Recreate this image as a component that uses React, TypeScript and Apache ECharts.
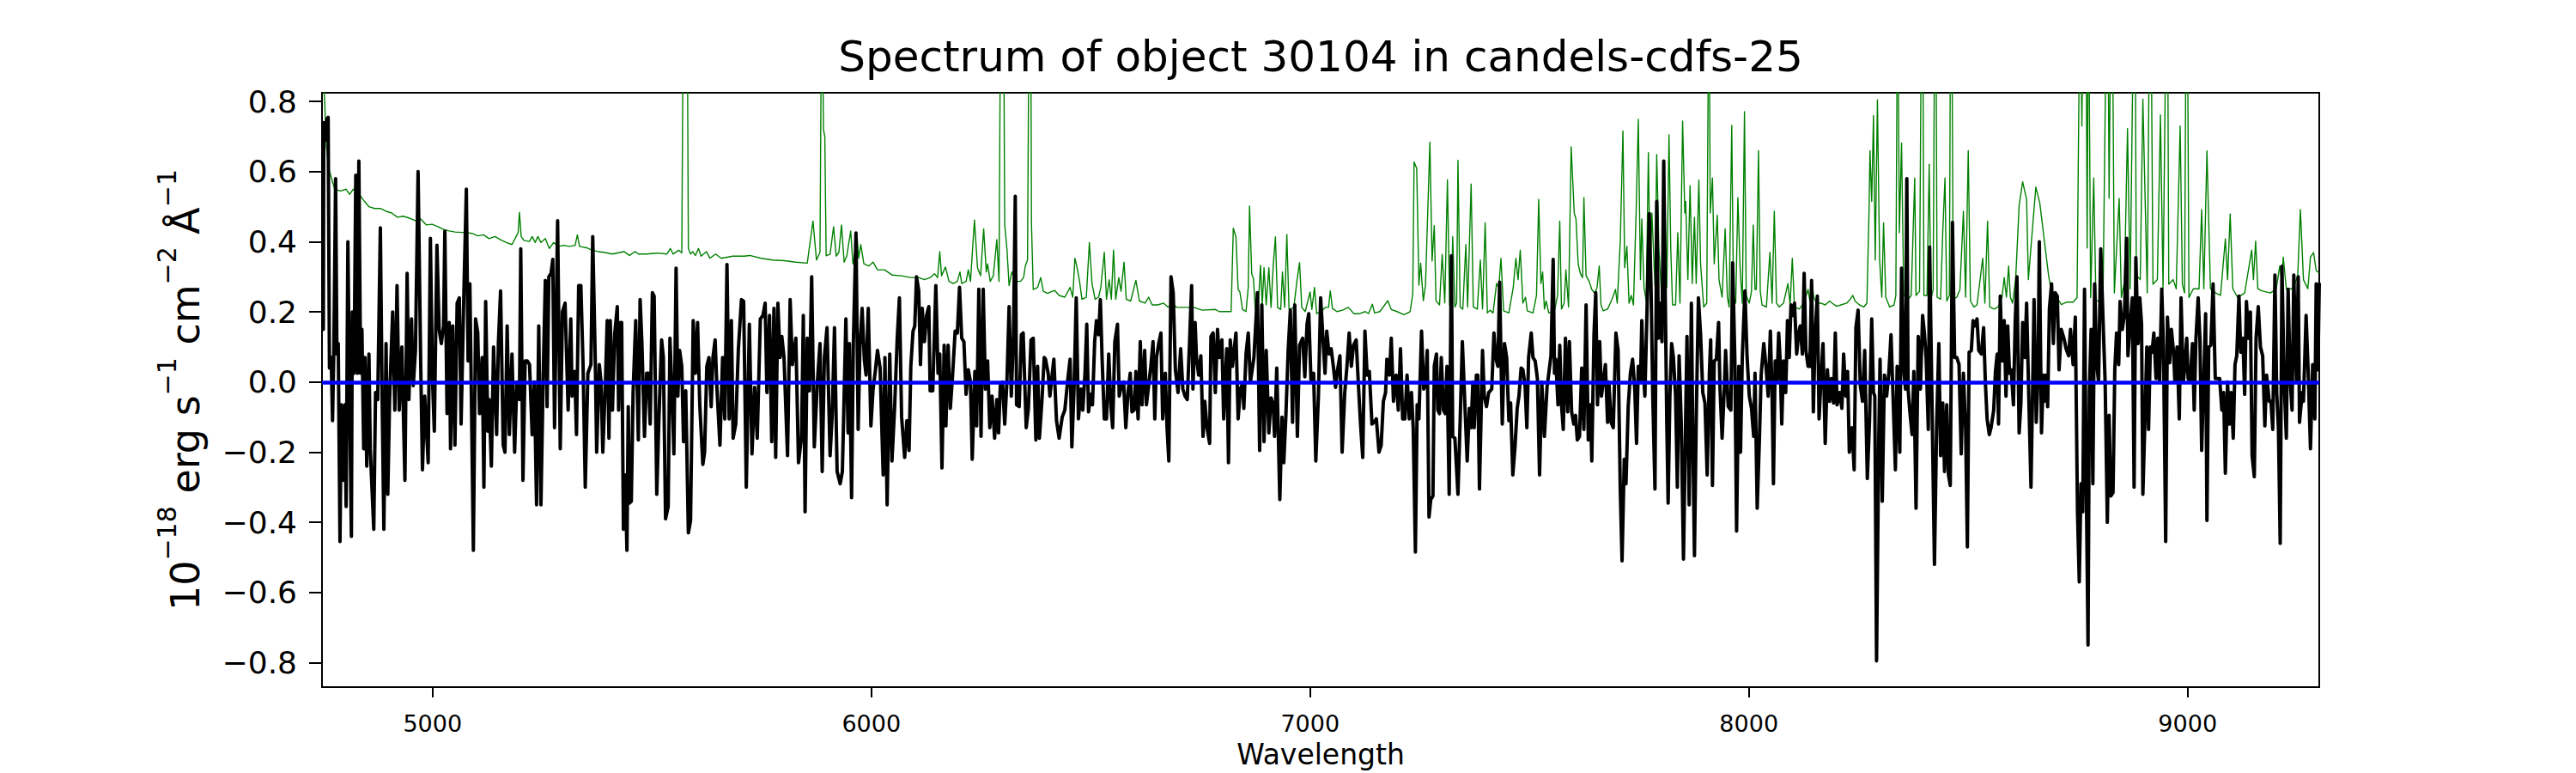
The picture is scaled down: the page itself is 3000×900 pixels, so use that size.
import React, { useEffect, useRef } from "react";
import * as echarts from "echarts";

const TITLE = "Spectrum of object 30104 in candels-cdfs-25";
const X_NAME = "Wavelength";
const X_TICKS = [5000, 6000, 7000, 8000, 9000];
const Y_TICKS = [-0.8, -0.6, -0.4, -0.2, 0, 0.2, 0.4, 0.6, 0.8];
const X_RANGE = [4748, 9300];
const Y_RANGE = [-0.87, 0.825];
const ZERO_LEVEL = 0;

// observed flux [wavelength, flux]
const FLUX: [number, number][] = [
  [4751,0.15],[4752,0.74],[4756,0.69],[4759,0.75],[4762,0.755],[4765,0.04],[4769,0.07],[4772,-0.11],[4775,0.09],[4779,0.58],[4782,0.08],[4785,0.11],[4789,-0.455],[4792,-0.065],[4796,-0.28],[4800,-0.065],[4803,-0.355],[4807,0.40],[4811,-0.065],[4815,-0.44],[4817,0.20],[4821,0.025],[4825,0.59],[4829,0.025],[4832,0.63],[4836,0.025],[4839,0.15],[4843,-0.19],[4846,0.07],[4850,-0.24],[4855,0.08],[4858,-0.19],[4866,-0.42],[4870,-0.03],[4875,-0.05],[4881,0.44],[4885,-0.04],[4889,-0.42],[4894,0.11],[4898,-0.32],[4902,-0.05],[4909,0.20],[4914,-0.08],[4919,0.275],[4924,-0.08],[4930,0.10],[4937,-0.28],[4942,0.31],[4946,-0.05],[4952,0.18],[4956,-0.01],[4961,0.09],[4967,0.60],[4973,0.05],[4977,-0.25],[4982,-0.04],[4990,-0.23],[4995,0.41],[5000,0.0],[5004,-0.14],[5010,0.39],[5015,0.15],[5020,0.11],[5025,0.16],[5028,0.43],[5033,-0.09],[5038,0.17],[5041,-0.19],[5046,0.16],[5051,-0.18],[5056,0.225],[5061,0.24],[5065,-0.12],[5072,0.29],[5077,0.55],[5081,0.06],[5085,0.28],[5089,-0.09],[5093,-0.48],[5098,0.18],[5103,0.14],[5107,-0.09],[5113,0.07],[5117,-0.30],[5121,0.23],[5126,-0.14],[5129,-0.05],[5134,-0.24],[5139,0.10],[5146,-0.15],[5150,0.11],[5155,0.26],[5161,-0.18],[5165,-0.20],[5170,0.16],[5175,-0.15],[5181,0.08],[5187,-0.20],[5192,0.0],[5198,-0.05],[5201,0.38],[5206,-0.28],[5211,0.06],[5216,0.06],[5221,0.05],[5227,-0.15],[5232,0.0],[5237,-0.35],[5242,0.16],[5247,-0.35],[5252,0.01],[5257,0.29],[5261,-0.07],[5265,0.30],[5270,0.31],[5274,0.35],[5278,-0.13],[5285,0.46],[5291,-0.19],[5296,0.20],[5302,0.225],[5309,-0.08],[5315,0.18],[5318,-0.04],[5324,0.03],[5328,-0.15],[5333,0.275],[5338,0.275],[5343,0.05],[5348,-0.30],[5354,0.025],[5361,0.05],[5365,0.415],[5371,0.05],[5374,-0.20],[5380,0.05],[5384,0.0],[5388,-0.20],[5394,0.0],[5398,0.175],[5402,-0.16],
  [5405,0.175],[5410,-0.08],[5415,0.135],[5421,0.215],[5424,-0.08],[5428,0.17],[5431,0.17],[5435,-0.42],[5439,-0.265],[5443,-0.48],[5446,-0.07],[5449,-0.345],[5453,-0.34],[5457,-0.03],[5463,0.175],[5469,-0.165],[5473,0.235],[5477,0.115],[5483,-0.155],[5488,0.025],[5492,0.025],[5496,-0.12],[5501,0.255],[5505,0.245],[5511,-0.32],[5516,-0.10],[5522,0.12],[5526,0.07],[5531,-0.39],[5537,-0.355],[5541,0.125],[5546,-0.04],[5550,-0.205],[5555,0.325],[5559,-0.04],[5563,0.09],[5568,0.045],[5572,-0.17],[5577,-0.025],[5583,-0.43],[5588,-0.395],[5594,0.175],[5599,0.025],[5604,0.17],[5609,-0.065],[5616,-0.235],[5620,-0.20],[5625,0.045],[5630,0.07],[5635,-0.07],[5639,0.07],[5644,0.12],[5648,-0.015],[5655,-0.18],[5661,0.07],[5666,-0.105],[5671,0.335],[5676,-0.105],[5681,0.175],[5685,-0.16],[5691,-0.12],[5697,0.095],[5704,0.235],[5709,0.23],[5715,-0.30],[5722,0.165],[5728,-0.205],[5734,-0.015],[5740,-0.16],[5747,0.18],[5753,0.19],[5758,0.225],[5762,-0.03],[5768,0.19],[5773,-0.17],[5778,0.21],[5782,-0.215],[5787,0.225],[5792,0.07],[5796,0.13],[5801,0.07],[5809,-0.21],[5815,0.235],[5820,0.05],[5828,0.125],[5834,-0.23],[5841,-0.155],[5845,0.19],[5849,-0.37],[5854,0.125],[5859,-0.025],[5864,0.30],[5870,-0.185],[5877,0.0],[5883,0.11],[5888,-0.255],[5893,0.07],[5899,0.155],[5906,-0.21],[5911,-0.09],[5916,0.155],[5922,-0.255],[5929,-0.29],[5934,-0.255],[5942,0.18],[5947,-0.145],[5950,0.11],[5955,-0.33],[5959,0.11],[5965,0.425],[5970,-0.135],[5974,0.10],[5979,0.21],[5984,0.065],[5988,0.02],[5993,0.21],[5999,-0.125],[6004,-0.02],[6009,0.03],[6014,0.09],[6020,0.04],[6027,-0.265],[6031,0.07],[6036,-0.35],[6042,0.08],[6047,-0.225],
  [6053,-0.075],[6059,0.125],[6064,0.24],[6069,-0.10],[6076,-0.215],[6081,-0.11],[6086,-0.195],[6090,0.045],[6095,0.145],[6099,0.16],[6103,0.30],[6108,0.26],[6112,0.05],[6116,0.21],[6121,0.115],[6126,0.19],[6131,0.215],[6134,-0.025],[6140,-0.025],[6147,0.275],[6152,0.025],[6156,0.08],[6161,-0.245],[6166,0.105],[6170,-0.125],[6175,0.105],[6180,-0.075],[6185,0.015],[6191,0.145],[6196,0.14],[6201,0.27],[6206,0.125],[6211,0.115],[6216,-0.035],[6221,0.035],[6226,0.0],[6230,-0.22],[6236,0.03],[6240,-0.125],[6245,0.265],[6250,-0.155],[6255,0.265],[6260,-0.02],[6265,0.06],[6270,-0.13],[6275,-0.04],[6281,-0.16],[6286,-0.05],[6290,-0.145],[6294,-0.01],[6299,0.0],[6304,-0.12],[6309,0.0],[6314,0.215],[6319,-0.04],[6324,0.135],[6328,0.53],[6331,-0.065],[6337,-0.07],[6342,0.135],[6346,0.14],[6353,-0.13],[6358,-0.075],[6364,0.12],[6369,0.125],[6375,-0.165],[6379,0.045],[6383,-0.16],[6389,-0.05],[6394,0.07],[6397,0.065],[6403,0.025],[6407,-0.04],[6412,0.02],[6416,0.065],[6422,-0.11],[6428,-0.16],[6435,-0.10],[6441,-0.08],[6448,0.01],[6453,0.065],[6457,-0.185],[6462,-0.02],[6467,0.24],[6472,-0.105],[6478,-0.02],[6482,-0.08],[6487,0.025],[6491,0.165],[6495,-0.085],[6500,-0.035],[6504,-0.065],[6509,0.115],[6513,0.175],[6518,0.135],[6522,0.235],[6526,0.065],[6531,-0.105],[6536,-0.105],[6541,0.08],[6546,-0.07],[6550,-0.13],[6555,0.115],[6561,0.165],[6565,-0.04],[6570,-0.01],[6575,0.0],[6580,-0.13],[6585,-0.03],[6590,0.025],[6594,-0.085],[6599,-0.08],[6603,0.03],[6608,-0.105],[6613,0.115],[6617,-0.065],[6623,0.09],[6627,-0.065],[6632,-0.01],[6637,0.045],[6642,0.115],[6646,-0.105],[6650,0.07],[6655,0.11],[6660,0.14],[6664,-0.105],[6670,0.025],[6674,-0.13],[6678,-0.225],[6683,0.30],[6688,0.255],[6693,0.035],
  [6699,-0.03],[6705,0.095],[6710,-0.02],[6715,-0.04],[6720,-0.05],[6725,0.105],[6730,0.275],[6733,-0.02],[6738,0.17],[6741,0.07],[6746,0.02],[6751,0.075],[6756,-0.155],[6760,-0.055],[6765,-0.13],[6771,-0.175],[6774,0.13],[6779,0.14],[6784,-0.03],[6789,0.15],[6793,0.07],[6799,0.12],[6803,-0.105],[6810,0.095],[6814,-0.23],[6818,0.12],[6823,0.045],[6831,0.14],[6836,-0.105],[6841,-0.02],[6846,-0.005],[6849,-0.075],[6854,0.08],[6859,0.14],[6864,0.0],[6872,0.07],[6880,0.255],[6885,-0.195],[6890,0.22],[6895,-0.17],[6900,0.09],[6906,-0.145],[6911,-0.045],[6916,-0.065],[6919,-0.155],[6924,0.04],[6931,-0.335],[6936,-0.10],[6940,-0.23],[6945,-0.09],[6950,0.09],[6955,0.205],[6960,-0.115],[6965,0.22],[6971,-0.155],[6976,0.105],[6983,0.125],[6988,0.015],[6993,0.165],[6997,0.195],[7002,0.005],[7008,0.025],[7013,-0.225],[7019,-0.04],[7024,0.24],[7028,0.155],[7034,0.025],[7038,0.145],[7043,0.08],[7048,0.095],[7053,0.045],[7058,-0.015],[7062,0.03],[7068,0.075],[7073,-0.20],[7079,-0.03],[7084,0.045],[7089,0.14],[7094,0.045],[7099,0.105],[7105,0.12],[7110,-0.005],[7115,-0.12],[7120,-0.215],[7125,0.145],[7130,0.02],[7135,0.03],[7141,-0.12],[7146,-0.115],[7151,-0.105],[7157,-0.20],[7162,-0.18],[7167,-0.055],[7172,-0.03],[7175,0.065],[7181,0.02],[7185,0.125],[7190,-0.055],[7196,0.02],[7201,-0.08],[7206,0.095],[7211,-0.105],[7216,-0.105],[7221,0.02],[7226,-0.105],[7231,-0.03],[7235,-0.13],[7240,-0.485],[7244,-0.065],[7248,-0.105],[7254,0.145],[7259,-0.02],[7263,-0.005],[7267,0.09],[7271,-0.385],[7275,-0.335],[7280,-0.325],[7283,0.045],[7288,0.08],[7291,-0.08],[7295,-0.09],[7299,0.07],[7304,-0.08],[7308,-0.09],[7312,0.045],[7317,-0.32],
  [7322,0.36],[7325,-0.155],[7330,-0.16],[7337,-0.32],[7342,-0.11],[7347,0.115],[7352,-0.04],[7358,-0.225],[7363,-0.075],[7367,-0.13],[7371,0.0],[7374,-0.13],[7379,0.02],[7382,0.02],[7386,-0.305],[7393,0.09],[7397,-0.04],[7402,-0.07],[7407,-0.03],[7414,-0.02],[7419,0.14],[7423,0.07],[7428,0.045],[7432,0.285],[7435,0.07],[7438,-0.12],[7443,0.11],[7448,0.07],[7453,-0.11],[7457,-0.06],[7462,-0.265],[7467,-0.185],[7472,-0.075],[7476,-0.04],[7481,0.04],[7485,0.035],[7490,-0.01],[7494,-0.13],[7498,0.07],[7504,0.14],[7508,0.07],[7513,0.06],[7518,0.01],[7523,-0.265],[7528,0.0],[7534,-0.155],[7540,-0.015],[7544,0.025],[7549,0.075],[7554,0.35],[7557,0.025],[7560,0.065],[7565,-0.065],[7569,0.105],[7573,-0.065],[7577,-0.135],[7582,0.125],[7587,-0.085],[7591,0.115],[7596,-0.085],[7601,-0.12],[7605,-0.095],[7609,-0.165],[7614,-0.155],[7619,0.04],[7624,-0.135],[7629,0.22],[7634,-0.165],[7639,-0.065],[7642,-0.225],[7647,0.135],[7651,0.255],[7655,-0.065],[7660,0.115],[7664,-0.04],[7668,0.0],[7673,0.05],[7678,-0.115],[7681,0.0],[7686,-0.115],[7691,-0.13],[7697,0.14],[7702,0.09],[7707,-0.31],[7711,-0.51],[7716,-0.22],[7720,-0.29],[7725,-0.07],[7730,0.025],[7735,0.065],[7740,-0.02],[7744,-0.175],[7748,0.045],[7753,0.0],[7756,0.175],[7759,0.045],[7763,-0.04],[7768,0.21],[7773,0.48],[7777,0.27],[7781,-0.04],[7786,-0.305],[7790,0.515],[7794,0.125],[7797,0.225],[7802,0.115],[7806,0.63],[7809,0.29],[7813,-0.12],[7816,-0.345],[7820,-0.04],[7824,0.11],[7828,0.07],[7833,-0.04],[7837,-0.30],[7841,0.075],[7846,-0.12],[7851,-0.505],[7856,-0.10],[7859,0.13],[7864,-0.35],[7869,0.225],[7872,-0.13],[7876,-0.495],[7880,-0.11],[7885,0.24],[7890,0.135],[7895,-0.03],[7900,-0.06],[7905,-0.265],[7910,0.025],[7913,0.12],[7917,-0.295],[7921,0.06],[7926,0.065],[7931,0.17],[7934,-0.01],[7939,-0.16],[7944,-0.02],[7947,0.09],[7953,-0.07],[7959,-0.08],[7963,0.34],[7968,0.07],[7972,-0.425],[7977,0.045],[7981,-0.2],[7985,0.07],
  [7991,0.26],[7996,0.07],[8001,-0.04],[8006,-0.075],[8011,-0.155],[8014,0.025],[8019,-0.36],[8024,-0.165],[8028,0.02],[8034,0.11],[8039,0.045],[8044,-0.04],[8049,0.145],[8053,-0.04],[8056,-0.29],[8060,0.06],[8064,0.0],[8068,0.14],[8071,0.07],[8075,-0.12],[8079,0.06],[8084,-0.03],[8088,0.175],[8092,0.07],[8096,0.22],[8101,0.19],[8104,0.225],[8109,0.08],[8113,0.135],[8117,0.16],[8122,0.08],[8126,0.31],[8130,0.09],[8135,0.045],[8139,0.045],[8143,0.29],[8147,-0.085],[8151,0.135],[8156,0.245],[8160,-0.105],[8164,0.0],[8169,0.11],[8174,-0.175],[8179,0.035],[8184,-0.055],[8188,0.01],[8193,-0.06],[8197,0.14],[8201,-0.065],[8207,-0.03],[8212,-0.075],[8216,0.08],[8221,-0.04],[8225,0.03],[8229,-0.20],[8235,-0.13],[8240,-0.25],[8244,0.155],[8249,0.205],[8254,-0.01],[8259,-0.055],[8264,0.09],[8270,-0.275],[8275,-0.11],[8280,0.18],[8284,-0.03],[8287,-0.04],[8291,-0.795],[8296,-0.165],[8299,0.065],[8304,-0.34],[8309,0.02],[8314,-0.04],[8319,0.025],[8324,0.135],[8329,-0.055],[8334,-0.25],[8338,0.045],[8344,-0.20],[8348,0.325],[8353,0.035],[8357,-0.02],[8360,0.58],[8363,-0.02],[8367,-0.085],[8372,-0.15],[8376,0.03],[8381,-0.36],[8386,0.13],[8391,-0.02],[8396,0.19],[8400,0.14],[8404,0.07],[8409,-0.135],[8412,0.385],[8417,-0.025],[8423,-0.52],[8428,-0.12],[8433,0.11],[8437,-0.21],[8442,-0.06],[8446,-0.255],[8451,-0.065],[8455,-0.265],[8459,-0.295],[8464,0.455],[8469,0.07],[8474,0.07],[8479,0.05],[8484,-0.205],[8489,0.025],[8494,-0.13],[8498,-0.47],[8502,0.085],[8507,0.09],[8511,0.175],[8515,0.16],[8520,0.18],[8524,0.09],[8530,0.08],[8535,0.155],[8539,0.0],[8543,-0.105],[8548,-0.15],[8552,-0.13],[8558,-0.08],[8562,0.03],[8566,0.08],[8569,-0.12],[8573,0.245],[8577,0.06],[8582,0.175],[8586,-0.04],[8590,0.16],[8594,0.025],[8598,0.035],[8603,-0.065],[8607,0.17],[8611,0.30],[8616,-0.145],[8620,-0.06],[8624,0.17],[8629,0.07],[8633,0.225],
  [8637,0.01],[8643,-0.30],[8647,0.0],[8650,0.235],[8655,-0.115],[8659,0.02],[8662,0.40],[8667,-0.145],[8671,0.02],[8673,-0.055],[8677,0.02],[8681,-0.07],[8685,0.21],[8690,0.28],[8694,0.11],[8698,0.255],[8703,0.245],[8707,0.035],[8712,0.15],[8718,0.125],[8723,0.095],[8729,0.075],[8733,0.15],[8739,0.05],[8744,0.185],[8749,-0.37],[8753,-0.57],[8757,-0.29],[8761,-0.37],[8765,0.265],[8769,-0.29],[8773,-0.75],[8776,-0.03],[8780,0.15],[8784,-0.29],[8788,0.28],[8793,0.05],[8797,0.0],[8802,0.38],[8807,0.185],[8812,0.0],[8817,-0.40],[8821,-0.095],[8825,-0.325],[8830,-0.315],[8834,0.035],[8838,0.14],[8843,0.05],[8846,0.23],[8851,0.15],[8856,0.19],[8861,0.41],[8864,0.075],[8869,0.165],[8874,0.24],[8878,-0.30],[8882,0.355],[8887,0.11],[8891,0.24],[8895,0.165],[8898,-0.32],[8903,-0.095],[8907,0.10],[8911,-0.135],[8915,0.10],[8919,0.085],[8923,0.14],[8928,0.01],[8932,0.125],[8936,0.0],[8941,0.265],[8945,0.10],[8950,-0.455],[8954,0.185],[8959,0.055],[8963,0.15],[8968,0.085],[8971,0.0],[8976,0.10],[8981,-0.105],[8985,0.24],[8990,0.0],[8993,0.035],[8998,0.125],[9001,0.01],[9006,0.0],[9011,0.11],[9015,-0.08],[9019,0.125],[9024,0.24],[9028,0.125],[9032,-0.195],[9037,0.02],[9041,0.195],[9044,-0.395],[9048,0.10],[9053,0.105],[9058,0.28],[9063,0.01],[9067,0.01],[9073,0.01],[9078,-0.08],[9082,-0.03],[9086,-0.26],[9091,0.0],[9095,-0.12],[9099,-0.03],[9104,-0.16],[9108,0.05],[9112,0.075],[9117,0.245],[9121,0.085],[9126,0.125],[9130,-0.035],[9134,0.23],[9139,0.125],[9143,0.20],[9147,-0.21],[9152,-0.27],[9156,0.125],[9161,0.215],[9166,0.10],[9171,0.075],[9176,-0.125],[9180,0.02],[9186,-0.055],[9190,-0.055],[9194,-0.135],[9199,0.305],[9203,-0.03],[9207,-0.135],[9211,-0.46],[9215,0.33],[9220,0.0],[9225,-0.16],[9229,0.265],[9234,0.0],[9238,-0.08],[9242,0.305],[9248,0.0],[9252,0.30],[9255,-0.115],[9261,-0.03],[9264,-0.055],[9270,0.19],[9275,0.02],[9280,-0.19],[9285,0.05],[9290,-0.105],[9293,0.28],[9297,0.035],[9300,0.28],
];

// noise spectrum [wavelength, sigma]
const NOISE: [number, number][] = [
  [4749,0.95],[4754,0.805],[4758,0.67],[4764,0.605],[4770,0.58],[4777,0.55],[4790,0.545],[4803,0.55],[4811,0.535],[4819,0.55],[4826,0.545],[4836,0.53],[4845,0.515],[4855,0.50],[4868,0.495],[4881,0.495],[4894,0.487],[4907,0.482],[4920,0.47],[4933,0.473],[4946,0.468],[4963,0.459],[4973,0.465],[4986,0.448],[4999,0.45],[5012,0.443],[5025,0.435],[5038,0.431],[5051,0.428],[5077,0.426],[5090,0.424],[5103,0.417],[5116,0.42],[5129,0.409],[5142,0.415],[5155,0.406],[5168,0.398],[5181,0.392],[5188,0.409],[5195,0.426],[5198,0.484],[5202,0.415],[5208,0.404],[5221,0.401],[5227,0.415],[5234,0.398],[5240,0.415],[5247,0.398],[5257,0.409],[5266,0.381],[5276,0.398],[5286,0.387],[5299,0.39],[5312,0.387],[5325,0.39],[5330,0.42],[5335,0.387],[5351,0.383],[5364,0.376],[5377,0.372],[5390,0.37],[5402,0.367],
  [5410,0.365],[5436,0.372],[5449,0.361],[5461,0.372],[5469,0.365],[5488,0.365],[5514,0.368],[5534,0.365],[5542,0.381],[5548,0.365],[5561,0.376],[5568,0.368],[5572,1.2],[5580,1.2],[5583,0.381],[5588,0.365],[5593,0.372],[5599,0.361],[5606,0.381],[5612,0.359],[5624,0.372],[5632,0.353],[5645,0.365],[5658,0.353],[5684,0.359],[5710,0.359],[5723,0.361],[5749,0.353],[5775,0.348],[5802,0.346],[5828,0.342],[5854,0.339],[5867,0.459],[5875,0.348],[5883,0.37],[5887,1.2],[5891,0.72],[5894,0.70],[5897,0.36],[5906,0.365],[5914,0.443],[5920,0.359],[5926,0.37],[5932,0.448],[5938,0.342],[5944,0.359],[5953,0.431],[5958,0.337],[5968,0.409],[5971,0.353],[5976,0.392],[5983,0.337],[5994,0.331],[6004,0.342],[6014,0.32],[6030,0.32],[6048,0.305],
  [6069,0.303],[6089,0.298],[6108,0.298],[6121,0.292],[6134,0.298],[6144,0.309],[6151,0.298],[6156,0.372],[6160,0.303],[6169,0.328],[6177,0.287],[6187,0.281],[6196,0.287],[6202,0.314],[6206,0.281],[6216,0.287],[6221,0.32],[6226,0.287],[6235,0.462],[6242,0.326],[6249,0.303],[6256,0.437],[6262,0.314],[6265,0.337],[6271,0.287],[6278,0.303],[6286,0.406],[6291,0.287],[6295,1.2],[6301,1.2],[6304,0.448],[6309,0.381],[6314,0.275],[6320,0.314],[6330,0.287],[6340,0.287],[6347,0.298],[6351,0.331],[6356,0.348],[6360,1.2],[6363,1.2],[6365,0.45],[6369,0.264],[6379,0.27],[6386,0.298],[6392,0.259],[6402,0.253],[6412,0.259],[6418,0.261],[6428,0.247],[6441,0.242],[6453,0.27],[6459,0.242],[6464,0.353],[6469,0.326],[6474,0.292],[6480,0.236],[6490,0.242],[6497,0.398],[6503,0.281],[6510,0.236],[6518,0.242],[6523,0.27],[6531,0.37],[6536,0.236],[6542,0.292],[6547,0.236],[6552,0.376],[6557,0.236],[6564,0.298],[6569,0.259],[6576,0.342],[6581,0.236],[6591,0.231],[6603,0.29],[6611,0.231],[6624,0.225],[6632,0.242],[6640,0.22],[6653,0.22],[6666,0.225],[6676,0.214],[6689,0.22],
  [6696,0.213],[6712,0.213],[6722,0.213],[6735,0.213],[6754,0.205],[6784,0.207],[6793,0.201],[6820,0.201],[6825,0.439],[6831,0.414],[6836,0.264],[6840,0.257],[6846,0.207],[6854,0.201],[6859,0.27],[6862,0.502],[6867,0.308],[6871,0.295],[6875,0.207],[6882,0.22],[6887,0.333],[6891,0.22],[6895,0.326],[6900,0.22],[6906,0.326],[6911,0.213],[6916,0.333],[6921,0.414],[6926,0.213],[6933,0.207],[6937,0.314],[6942,0.213],[6947,0.421],[6952,0.207],[6963,0.213],[6970,0.289],[6976,0.341],[6981,0.213],[6989,0.201],[7000,0.257],[7004,0.207],[7010,0.27],[7015,0.195],[7025,0.201],[7035,0.213],[7042,0.213],[7046,0.26],[7051,0.21],[7061,0.201],[7074,0.205],[7087,0.213],[7100,0.195],[7113,0.195],[7126,0.201],[7133,0.195],[7142,0.222],[7147,0.197],[7159,0.201],[7177,0.232],[7185,0.207],[7198,0.201],[7214,0.192],[7228,0.201],[7234,0.251],[7237,0.628],[7243,0.609],[7248,0.276],[7252,0.339],[7258,0.232],[7263,0.276],[7273,0.684],[7278,0.345],[7283,0.446],[7287,0.232],[7295,0.22],[7301,0.364],[7307,0.226],[7313,0.577],[7318,0.22],
  [7322,0.214],[7325,0.415],[7330,0.214],[7334,0.225],[7337,0.632],[7342,0.214],[7348,0.208],[7355,0.392],[7359,0.214],[7367,0.565],[7372,0.214],[7381,0.208],[7388,0.348],[7393,0.208],[7399,0.454],[7404,0.197],[7410,0.205],[7417,0.197],[7425,0.281],[7430,0.27],[7435,0.353],[7441,0.203],[7453,0.197],[7463,0.27],[7469,0.353],[7474,0.292],[7479,0.376],[7485,0.225],[7491,0.242],[7495,0.203],[7508,0.197],[7516,0.247],[7521,0.521],[7526,0.281],[7530,0.314],[7534,0.208],[7538,0.231],[7544,0.197],[7557,0.203],[7564,0.247],[7569,0.459],[7573,0.208],[7579,0.225],[7583,0.32],[7589,0.214],[7595,0.671],[7602,0.482],[7606,0.465],[7611,0.337],[7616,0.309],[7621,0.298],[7624,0.526],[7629,0.303],[7636,0.287],[7642,0.264],[7649,0.253],[7654,0.27],[7659,0.331],[7663,0.22],[7668,0.203],[7678,0.208],[7688,0.236],[7696,0.264],[7700,0.225],[7707,0.404],[7713,0.716],[7717,0.326],[7722,0.387],[7727,0.225],[7732,0.247],[7737,0.22],[7743,0.482],[7748,0.749],[7753,0.292],[7756,0.465],[7761,0.27],[7766,0.231],[7771,0.654],[7775,0.303],[7779,0.482],[7786,0.275],[7790,0.649],[7795,0.381],[7802,0.225],[7809,0.482],[7813,0.27],[7818,0.705],[7822,0.381],[7826,0.22],[7833,0.22],[7838,0.426],[7843,0.225],[7849,0.744],[7854,0.482],[7856,0.515],[7861,0.292],[7866,0.56],[7871,0.281],[7876,0.47],[7880,0.281],[7886,0.576],[7890,0.337],[7897,0.214],[7904,0.225],[7909,1.2],[7912,0.482],[7917,0.582],[7921,0.337],[7928,0.476],[7932,0.292],[7939,0.242],[7946,0.437],[7951,0.242],[7955,0.214],[7961,0.732],[7965,0.242],[7970,0.225],[7975,0.526],[7980,0.326],[7985,0.225],
  [7990,0.771],[7994,0.247],[8001,0.225],[8006,0.259],[8010,0.448],[8014,0.264],[8017,0.264],[8022,0.66],[8026,0.259],[8030,0.22],[8040,0.214],[8048,0.37],[8053,0.225],[8058,0.487],[8063,0.225],[8069,0.214],[8079,0.225],[8089,0.281],[8094,0.22],[8099,0.353],[8104,0.214],[8115,0.208],[8125,0.225],[8135,0.264],[8139,0.231],[8143,0.292],[8148,0.242],[8154,0.225],[8164,0.225],[8174,0.22],[8184,0.231],[8190,0.225],[8200,0.216],[8210,0.22],[8223,0.225],[8231,0.236],[8237,0.247],[8242,0.231],[8252,0.22],[8262,0.214],[8269,0.225],[8274,0.493],[8276,0.66],[8280,0.515],[8284,0.76],[8288,0.348],[8293,0.805],[8298,0.348],[8303,0.242],[8307,0.454],[8312,0.242],[8321,0.214],[8331,0.22],[8335,0.247],[8339,1.2],[8343,0.426],[8348,0.682],[8353,0.247],[8363,0.236],[8370,0.247],[8378,0.582],[8381,0.247],[8389,0.259],[8394,1.2],[8396,1.2],[8399,0.247],[8406,0.247],[8411,0.621],[8415,0.236],[8420,0.264],[8424,1.2],[8426,1.2],[8429,0.242],[8437,0.236],[8442,0.431],[8447,0.582],[8451,0.231],[8457,0.247],[8460,1.2],[8462,1.2],[8466,0.236],[8474,0.242],[8481,0.264],[8489,0.487],[8494,0.242],[8500,0.66],[8505,0.231],[8513,0.214],[8520,0.22],[8533,0.353],[8538,0.225],[8544,0.459],[8549,0.214],[8559,0.208],[8568,0.214],[8577,0.242],[8582,0.298],[8587,0.242],[8592,0.331],[8596,0.242],[8601,0.225],[8608,0.292],[8616,0.504],[8624,0.571],[8633,0.521],
  [8637,0.292],[8654,0.556],[8663,0.511],[8673,0.408],[8683,0.305],[8690,0.254],[8699,0.247],[8712,0.221],[8725,0.228],[8739,0.228],[8748,0.241],[8755,1.2],[8759,0.73],[8763,1.2],[8768,1.2],[8771,0.382],[8774,1.2],[8779,0.241],[8786,0.582],[8791,0.234],[8807,0.221],[8816,1.2],[8818,1.2],[8821,0.524],[8826,1.2],[8828,1.2],[8833,0.254],[8844,0.524],[8849,0.241],[8856,0.286],[8863,0.723],[8869,0.266],[8878,1.2],[8880,1.2],[8883,0.305],[8892,0.292],[8898,0.807],[8908,0.254],[8914,1.2],[8916,1.2],[8921,0.279],[8931,0.292],[8938,0.762],[8944,0.266],[8952,1.2],[8954,1.2],[8957,0.279],[8967,0.292],[8974,0.266],[8983,0.73],[8988,0.279],[8993,0.254],[8997,1.2],[8999,1.2],[9003,0.241],[9013,0.266],[9026,0.266],[9032,0.492],[9037,0.266],[9044,0.659],[9052,0.266],[9064,0.254],[9075,0.247],[9086,0.408],[9091,0.292],[9097,0.479],[9103,0.266],[9114,0.241],[9130,0.254],[9146,0.376],[9150,0.292],[9155,0.402],[9160,0.266],[9169,0.26],[9189,0.254],[9202,0.266],[9210,0.331],[9214,0.292],[9218,0.356],[9225,0.266],[9241,0.266],[9251,0.305],[9257,0.492],[9264,0.292],[9274,0.266],[9280,0.356],[9287,0.369],[9293,0.318],[9300,0.311],
];

const FONT = "DejaVu Sans";

export default function App() {
  const ref = useRef<HTMLDivElement>(null);
  useEffect(() => {
    document.body.style.margin = "0";
    const chart = echarts.init(ref.current as HTMLDivElement, undefined, { renderer: "svg" });
    chart.setOption({
      animation: false,
      backgroundColor: "#ffffff",
      textStyle: { fontFamily: FONT },
      grid: {
        left: 375,
        top: 108,
        right: 299,
        bottom: 99,
        show: true,
        borderColor: "#000000",
        borderWidth: 2,
        backgroundColor: "transparent",
      },
      graphic: [
        {
          type: "text",
          x: 1538,
          y: 41,
          style: {
            text: TITLE,
            fontSize: 50,
            fontFamily: FONT,
            fill: "#000000",
            align: "center",
            verticalAlign: "top",
          },
        },
        {
          type: "text",
          x: 209,
          y: 454,
          rotation: Math.PI / 2,
          style: {
            text: "{n|10}{s|−18}{n| erg s}{s|−1}{n| cm}{s|−2}{n| Å}{s|−1}",
            align: "center",
            verticalAlign: "middle",
            fill: "#000000",
            rich: {
              n: { fontSize: 46, fontFamily: FONT, lineHeight: 60, verticalAlign: "bottom", fill: "#000000" },
              s: { fontSize: 30, fontFamily: FONT, lineHeight: 33, verticalAlign: "top", fill: "#000000" },
            },
          },
        },
      ],
      xAxis: {
        type: "value",
        min: X_RANGE[0],
        max: X_RANGE[1],
        splitLine: { show: false },
        axisLine: { show: true, onZero: false, lineStyle: { color: "#000000", width: 2 } },
        axisTick: { show: true, customValues: X_TICKS, length: 12, lineStyle: { color: "#000000", width: 2 } },
        axisLabel: {
          customValues: X_TICKS,
          fontSize: 27,
          fontFamily: FONT,
          color: "#000000",
          margin: 29,
          formatter: (v: number) => String(v),
        },
        name: X_NAME,
        nameLocation: "middle",
        nameGap: 62,
        nameTextStyle: { fontSize: 33, fontFamily: FONT, color: "#000000" },
      },
      yAxis: {
        type: "value",
        min: Y_RANGE[0],
        max: Y_RANGE[1],
        splitLine: { show: false },
        axisLine: { show: true, onZero: false, lineStyle: { color: "#000000", width: 2 } },
        axisTick: { show: true, customValues: Y_TICKS, length: 15, lineStyle: { color: "#000000", width: 2 } },
        axisLabel: {
          customValues: Y_TICKS,
          fontSize: 36,
          fontFamily: FONT,
          color: "#000000",
          margin: 29,
          formatter: (v: number) => v.toFixed(1).replace("-", "−"),
        },
      },
      series: [
        {
          type: "line",
          data: NOISE,
          showSymbol: false,
          symbol: "none",
          clip: true,
          z: 2,
          lineStyle: { color: "#008000", width: 1.4, join: "round" },
          markLine: {
            silent: true,
            symbol: ["none", "none"],
            label: { show: false },
            lineStyle: { color: "#0000ff", width: 4.5, type: "solid" },
            data: [{ yAxis: ZERO_LEVEL }],
          },
        },
        {
          type: "line",
          data: FLUX,
          showSymbol: false,
          symbol: "none",
          clip: true,
          z: 4,
          lineStyle: { color: "#000000", width: 4, join: "round", cap: "round" },
        },
      ],
    });
    return () => chart.dispose();
  }, []);
  return <div ref={ref} style={{ width: 3000, height: 900 }} />;
}
